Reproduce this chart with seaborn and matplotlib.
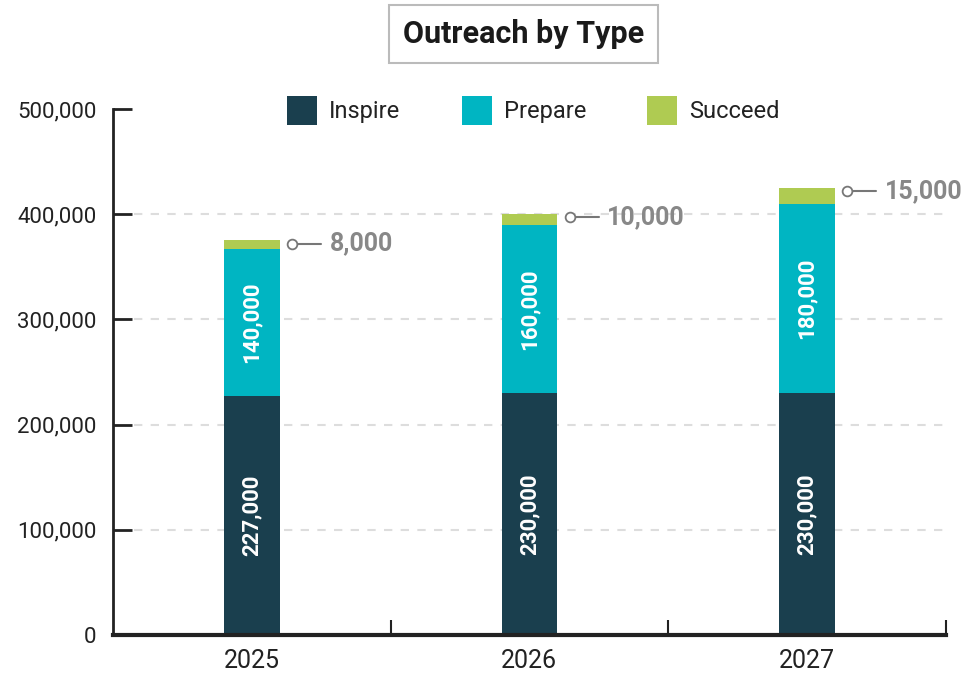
import matplotlib
matplotlib.use("Agg")
import matplotlib.pyplot as plt
import seaborn as sns
import pandas as pd

# Dados
anos = ["2025", "2026", "2027"]
inspire = [227000, 230000, 230000]
prepare = [140000, 160000, 180000]
succeed = [8000, 10000, 15000]
y_ticks = [0, 100000, 200000, 300000, 400000, 500000]

cores = {"Inspire": "#1a3f4e", "Prepare": "#00b5c2", "Succeed": "#afcb52"}

sns.set_style("white")
plt.rcParams["font.family"] = ["Roboto", "DejaVu Sans"]

df = pd.DataFrame({"ano": anos, "Inspire": inspire, "Prepare": prepare, "Succeed": succeed})
df["base_prep"] = df["Inspire"]
df["base_succ"] = df["Inspire"] + df["Prepare"]

fig = plt.figure(figsize=(9.78, 6.81), dpi=100)
ax = fig.add_axes([0.1155, 0.0675, 0.8515, 0.7725])

sns.barplot(data=df, x="ano", y="Inspire", color=cores["Inspire"], width=0.2,
            saturation=1, linewidth=0, ax=ax, label="Inspire")
sns.barplot(data=df, x="ano", y="Prepare", bottom=df["base_prep"], color=cores["Prepare"],
            width=0.2, saturation=1, linewidth=0, ax=ax, label="Prepare")
sns.barplot(data=df, x="ano", y="Succeed", bottom=df["base_succ"], color=cores["Succeed"],
            width=0.2, saturation=1, linewidth=0, ax=ax, label="Succeed")

ax.set_xlim(-0.5, 2.5)
ax.set_ylim(0, 500000)
ax.set_xlabel("")
ax.set_ylabel("")

# Eixos
ax.set_yticks(y_ticks)
ax.set_yticklabels([f"{v:,}" for v in y_ticks], fontsize=16, color="#222222")
ax.tick_params(axis="y", left=True, direction="in", length=14, width=2, color="#222222", pad=12)
ax.set_xticks([0.5, 1.5, 2.5], minor=True)
ax.tick_params(axis="x", which="major", bottom=False, length=0, labelsize=18,
               labelcolor="#222222", pad=10)
ax.tick_params(axis="x", which="minor", bottom=True, direction="in", length=11, width=1.5,
               color="#222222")
for s in ["top", "right"]:
    ax.spines[s].set_visible(False)
ax.spines["left"].set_linewidth(2)
ax.spines["left"].set_color("#222222")
ax.spines["bottom"].set_linewidth(3)
ax.spines["bottom"].set_color("#222222")

# Grade tracejada
for v in y_ticks[1:-1]:
    ax.axhline(v, xmin=0.025, xmax=1, color="#dddddd", lw=1.5, ls=(0, (4, 4)), zorder=0)

# Rótulos internos
for i in range(len(anos)):
    ax.text(i, inspire[i] / 2, f"{inspire[i]:,}", rotation=90, ha="center", va="center",
            color="white", fontsize=16, fontweight="bold")
    ax.text(i, inspire[i] + prepare[i] / 2, f"{prepare[i]:,}", rotation=90, ha="center",
            va="center", color="white", fontsize=16, fontweight="bold")
    topo = inspire[i] + prepare[i] + succeed[i]
    ax.plot([i + 0.145, i + 0.25], [topo - 3000, topo - 3000], color="#777777", lw=1.5, zorder=3)
    ax.plot(i + 0.145, topo - 3000, marker="o", ms=7, mfc="white", mec="#777777", mew=1.3, zorder=4)
    ax.text(i + 0.28, topo - 3000, f"{succeed[i]:,}", ha="left", va="center",
            color="#888888", fontsize=18, fontweight="bold")

# Legenda
leg = ax.legend(loc="upper center", bbox_to_anchor=(0.505, 1.065), ncol=3, frameon=False,
                fontsize=17, handlelength=1.27, handleheight=1.5, columnspacing=2.6,
                handletextpad=0.5)
for t in leg.get_texts():
    t.set_color("#222222")

# Título com caixa
fig.text(0.535, 0.95, "Outreach by Type", ha="center", va="center", fontsize=22,
         fontweight="bold", color="#1a1a1a",
         bbox=dict(boxstyle="square,pad=0.45", fc="white", ec="#bbbbbb", lw=1.5))

fig.savefig("out.png", dpi=100)
